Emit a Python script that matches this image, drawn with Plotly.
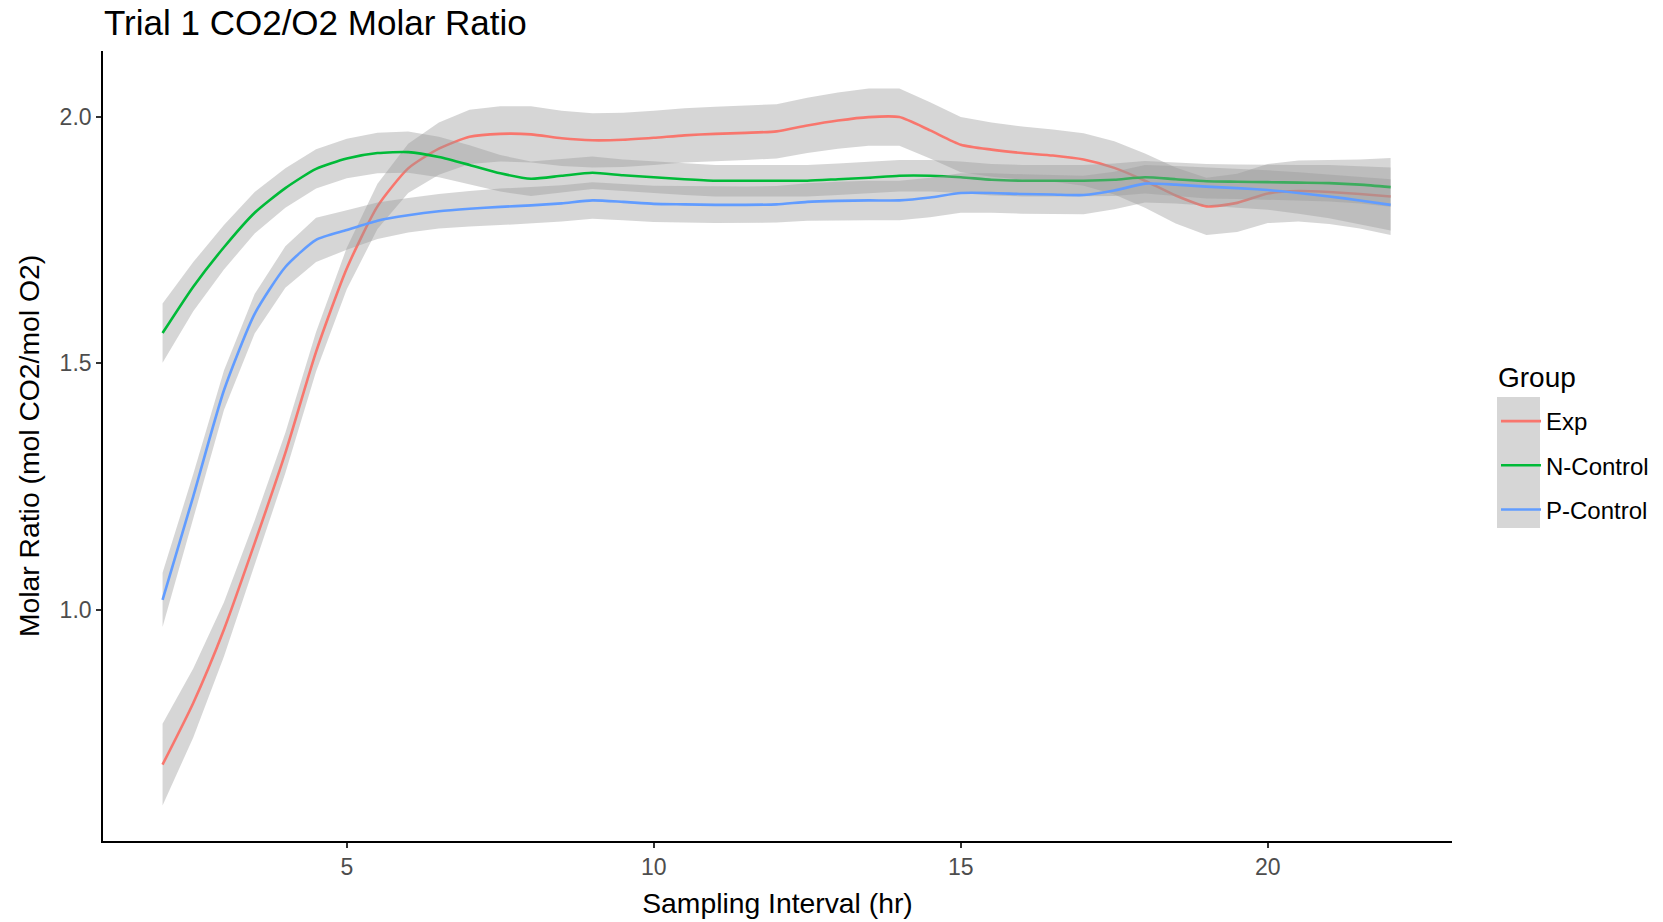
import plotly.graph_objects as go

# ---- data ----
x_hr = [2.0, 2.5, 3.0, 3.5, 4.0, 4.5, 5.0, 5.5, 6.0, 6.5, 7.0, 7.5, 8.0, 8.5, 9.0, 9.5,
        10.0, 10.5, 11.0, 11.5, 12.0, 12.5, 13.0, 13.5, 14.0, 14.5, 15.0, 15.5, 16.0,
        16.5, 17.0, 17.5, 18.0, 18.5, 19.0, 19.5, 20.0, 20.5, 21.0, 21.5, 22.0]

exp_fit = [0.686, 0.811, 0.960, 1.135, 1.318, 1.523, 1.692, 1.818, 1.895, 1.935, 1.959,
           1.965, 1.964, 1.956, 1.952, 1.953, 1.957, 1.962, 1.965, 1.967, 1.970, 1.982,
           1.992, 1.999, 1.999, 1.972, 1.943, 1.933, 1.926, 1.921, 1.913, 1.896, 1.870,
           1.840, 1.818, 1.825, 1.844, 1.849, 1.847, 1.843, 1.838]
exp_se = [0.083, 0.070, 0.055, 0.046, 0.041, 0.040, 0.042, 0.046, 0.050, 0.053, 0.055,
          0.056, 0.057, 0.056, 0.055, 0.055, 0.055, 0.055, 0.055, 0.055, 0.055, 0.056,
          0.057, 0.058, 0.058, 0.057, 0.056, 0.055, 0.054, 0.053, 0.053, 0.054, 0.055,
          0.057, 0.058, 0.059, 0.060, 0.062, 0.065, 0.070, 0.078]

ncon_fit = [1.561, 1.655, 1.735, 1.805, 1.855, 1.894, 1.915, 1.926, 1.928, 1.918, 1.902,
            1.885, 1.874, 1.880, 1.886, 1.881, 1.877, 1.873, 1.870, 1.870, 1.870, 1.870,
            1.873, 1.876, 1.880, 1.880, 1.877, 1.872, 1.870, 1.870, 1.870, 1.872, 1.877,
            1.873, 1.869, 1.868, 1.867, 1.866, 1.865, 1.862, 1.857]
ncon_se = [0.060, 0.050, 0.045, 0.042, 0.040, 0.040, 0.040, 0.041, 0.042, 0.041, 0.040,
           0.037, 0.035, 0.034, 0.033, 0.032, 0.032, 0.032, 0.032, 0.032, 0.032, 0.032,
           0.032, 0.032, 0.032, 0.032, 0.032, 0.032, 0.032, 0.032, 0.032, 0.033, 0.033,
           0.034, 0.035, 0.035, 0.035, 0.036, 0.037, 0.038, 0.040]

pcon_fit = [1.020, 1.230, 1.445, 1.600, 1.695, 1.750, 1.770, 1.789, 1.800, 1.808, 1.813,
            1.817, 1.820, 1.824, 1.830, 1.827, 1.823, 1.822, 1.821, 1.821, 1.822, 1.827,
            1.829, 1.830, 1.830, 1.836, 1.845, 1.845, 1.843, 1.842, 1.841, 1.850, 1.864,
            1.862, 1.858, 1.855, 1.851, 1.845, 1.838, 1.830, 1.821]
pcon_se = [0.055, 0.045, 0.040, 0.040, 0.042, 0.045, 0.040, 0.037, 0.035, 0.035, 0.036,
           0.037, 0.037, 0.037, 0.037, 0.037, 0.037, 0.037, 0.037, 0.037, 0.037, 0.038,
           0.039, 0.040, 0.040, 0.040, 0.040, 0.040, 0.040, 0.040, 0.039, 0.038, 0.038,
           0.038, 0.039, 0.040, 0.040, 0.042, 0.044, 0.048, 0.052]

groups = ["Exp", "N-Control", "P-Control"]
fits = [exp_fit, ncon_fit, pcon_fit]
ses = [exp_se, ncon_se, pcon_se]
colors = ["#F8766D", "#00BA38", "#619CFF"]

x_ticks = [5, 10, 15, 20]
y_ticks = [1.0, 1.5, 2.0]
y_ticktext = ["1.0", "1.5", "2.0"]

FONT = "Liberation Sans, Arial, sans-serif"

# ---- figure geometry (px) ----
W, H = 1663, 922
ML, MR, MT, MB = 103, 211, 51, 81
PW = W - ML - MR
PH = H - MT - MB

def px_to_paper_x(px):
    return (px - ML) / PW

def px_to_paper_y(py):
    return (H - MB - py) / PH

fig = go.Figure()

for name, fit, se, col in zip(groups, fits, ses, colors):
    upper = [f + s for f, s in zip(fit, se)]
    lower = [f - s for f, s in zip(fit, se)]
    fig.add_trace(go.Scatter(
        x=x_hr + x_hr[::-1], y=upper + lower[::-1],
        fill="toself", fillcolor="rgba(153,153,153,0.4)",
        line=dict(width=0), mode="lines", hoverinfo="skip",
        showlegend=False, legendgroup=name,
    ))
    fig.add_trace(go.Scatter(
        x=x_hr, y=fit, mode="lines", name=name, legendgroup=name,
        line=dict(color=col, width=2.6, shape="spline", smoothing=0.6),
    ))

# grey legend key background
fig.add_shape(type="rect", xref="paper", yref="paper",
              x0=px_to_paper_x(1497), x1=px_to_paper_x(1540),
              y0=px_to_paper_y(528), y1=px_to_paper_y(397),
              fillcolor="#D6D6D6", line=dict(width=0), layer="below")

# legend title
fig.add_annotation(text="Group", xref="paper", yref="paper",
                   x=px_to_paper_x(1496), xanchor="left",
                   y=px_to_paper_y(377), yanchor="middle", showarrow=False,
                   font=dict(size=28, color="black", family=FONT))

fig.update_layout(
    width=W, height=H,
    margin=dict(l=ML, r=MR, t=MT, b=MB, autoexpand=False),
    paper_bgcolor="white", plot_bgcolor="white",
    font=dict(family=FONT, color="black"),
    title=dict(text="Trial 1 CO2/O2 Molar Ratio", x=px_to_paper_x(104), xref="paper",
               xanchor="left", y=1 - 23 / H, yref="container", yanchor="middle",
               font=dict(size=35, color="black", family=FONT)),
    xaxis=dict(range=[1.03, 23.0], tickvals=x_ticks, showline=True, linecolor="black",
               linewidth=1.6, ticks="outside", ticklen=5, tickwidth=1.5, tickcolor="#333333",
               showgrid=False, zeroline=False,
               tickfont=dict(size=23, color="#4D4D4D", family=FONT),
               title=dict(text="Sampling Interval (hr)", standoff=14,
                          font=dict(size=28.3, color="black", family=FONT))),
    yaxis=dict(range=[0.531, 2.133], tickvals=y_ticks, ticktext=y_ticktext, showline=True,
               linecolor="black", linewidth=1.6, ticks="outside", ticklen=5, tickwidth=1.5,
               tickcolor="#333333", showgrid=False, zeroline=False,
               tickfont=dict(size=23, color="#4D4D4D", family=FONT),
               title=dict(text="Molar Ratio (mol CO2/mol O2)", standoff=12,
                          font=dict(size=28.3, color="black", family=FONT))),
    legend=dict(font=dict(size=24, color="black", family=FONT),
                x=px_to_paper_x(1496), xanchor="left",
                y=px_to_paper_y(399), yanchor="top",
                bgcolor="rgba(0,0,0,0)", tracegroupgap=10, itemwidth=40),
    hovermode=False,
)

fig.write_html("out.html")
